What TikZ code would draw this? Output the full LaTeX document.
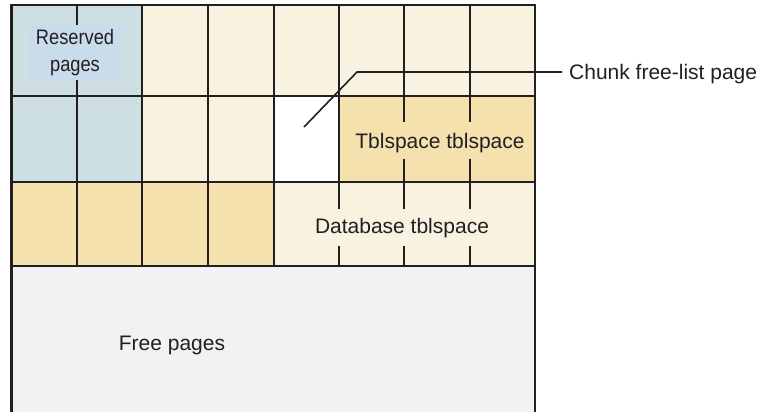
\documentclass[tikz,border=0pt]{standalone}
\usepackage{fontspec}
\setmainfont{Liberation Sans}
\newfontfamily\narrowfont[FakeStretch=0.87]{Liberation Sans}
\definecolor{blueC}{HTML}{CEDFE3}
\definecolor{labelC}{HTML}{C9DCEC}
\definecolor{creamC}{HTML}{F8F2E1}
\definecolor{tanC}{HTML}{F5E1AE}
\definecolor{freeC}{HTML}{F1F2F4}
\definecolor{lineC}{HTML}{231F20}
\begin{document}
\begin{tikzpicture}[x=1pt,y=-1pt,
  gridline/.style={draw=lineC, line width=2pt},
  frameline/.style={draw=lineC, line width=2.4pt},
  leader/.style={draw=lineC, line width=1.6pt},
  lbl/.style={inner sep=0pt, text=lineC, font=\fontsize{21}{27}\selectfont},
  reslbl/.style={fill=labelC, inner sep=0pt, minimum width=92pt, minimum height=55pt,
    align=center, text=lineC, font=\narrowfont\fontsize{21}{27}\selectfont}]
\useasboundingbox (0,0) rectangle (765,412);
% fills
\fill[blueC] (11.5,5) rectangle (142,182);
\fill[creamC] (142,5) rectangle (535,96);
\fill[creamC] (142,96) rectangle (274,182);
\fill[white] (274,96) rectangle (339,182);
\fill[tanC] (339,96) rectangle (535,182);
\fill[tanC] (11.5,182) rectangle (274,266);
\fill[creamC] (274,182) rectangle (535,266);
\fill[freeC] (11.5,266) rectangle (535,412);
% horizontal grid lines
\foreach \y in {96,182,266} \draw[gridline] (11.5,\y) -- (535,\y);
% row 1 verticals
\foreach \x in {77,142,207.5,274,339,404,470} \draw[gridline] (\x,5) -- (\x,96);
% row 2 verticals
\foreach \x in {77,142,207.5,274,339} \draw[gridline] (\x,96) -- (\x,182);
\foreach \x in {404,470} {\draw[gridline] (\x,96) -- (\x,122); \draw[gridline] (\x,159) -- (\x,182);}
% row 3 verticals
\foreach \x in {77,142,207.5,274} \draw[gridline] (\x,182) -- (\x,266);
\foreach \x in {339,404,470} {\draw[gridline] (\x,182) -- (\x,209); \draw[gridline] (\x,246) -- (\x,266);}
% frame
\draw[frameline] (11.5,412) -- (11.5,5) -- (535,5) -- (535,412);
% labels
\node[reslbl] (res) at (75,52.5) {Reserved\\pages};
\node[lbl, anchor=base] (tbl) at (440,148) {Tblspace tblspace};
\node[lbl, anchor=base] (db) at (402,233) {Database tblspace};
\node[lbl, anchor=base] (free) at (172,350) {Free pages};
\node[lbl, anchor=base west] (chunk) at (569,79) {Chunk free-list page};
% leader
\coordinate (cfl) at (304,127);
\coordinate (bend) at (357,72);
\coordinate (lend) at (562,72);
\draw[leader] (cfl) -- (bend) -- (lend);
\end{tikzpicture}
\end{document}
